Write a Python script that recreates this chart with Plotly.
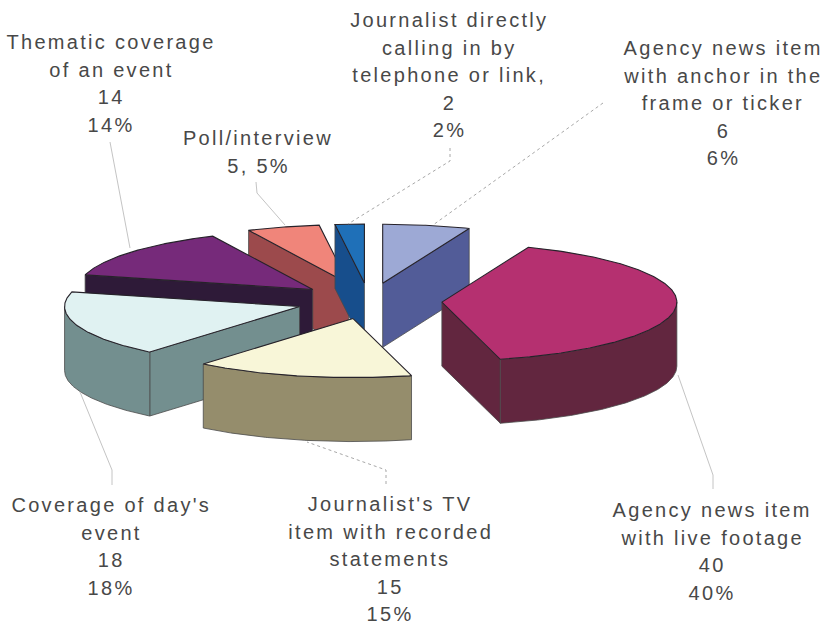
import numpy as np
import plotly.graph_objects as go

# ---- data -------------------------------------------------------------
categories = [
    "Agency news item with anchor in the frame or ticker",
    "Agency news item with live footage",
    "Journalist's TV item with recorded statements",
    "Coverage of day's event",
    "Thematic coverage of an event",
    "Poll/interview",
    "Journalist directly calling in by telephone or link",
]
values = [6, 40, 15, 18, 14, 5, 2]
top_colors = ["#9DA9D5", "#B53070", "#F8F6D8", "#E0F2F2", "#762A7A", "#F0857A", "#1F70B8"]
side_colors = ["#525C98", "#62263F", "#958D6C", "#738F8F", "#2E1A38", "#9C4A4C", "#174E8C"]

label_lines = [
    ["Agency news item", "with anchor in the", "frame or ticker", "6", "6%"],
    ["Agency news item", "with live footage", "40", "40%"],
    ["Journalist's TV", "item with recorded", "statements", "15", "15%"],
    ["Coverage of day's", "event", "18", "18%"],
    ["Thematic coverage", "of an event", "14", "14%"],
    ["Poll/interview", "5, 5%"],
    ["Journalist directly", "calling in by", "telephone or link,", "2", "2%"],
]
label_centre_x = [723, 712, 390, 111, 111, 258, 449]
label_first_y = [48, 510, 504, 505, 42, 138, 20]

leader_x = [[603, 433], [713, 713, 678], [386, 386, 307], [112, 112, 80], [110, 130], [256, 257, 285], [450, 450, 348]]
leader_y = [[103, 225], [489, 475, 375], [484, 470, 442], [485, 470, 392], [142, 248], [182, 193, 225], [148, 161, 224]]
leader_dash = ["dot", "solid", "dot", "solid", "solid", "solid", "dot"]

# ---- projection of the tilted pie ---------------------------------------
CX, CY = 369, 301      # pie centre in page pixels
RX, RY = 235, 59       # ellipse radii of the top face
EX, EY = 73, 18        # explosion offset
DEPTH = 64             # extruded height
LINE_H = 27.5

fractions = np.array(values) / sum(values)
ends = np.cumsum(fractions) * 360
starts = ends - fractions * 360


def arc(ax, ay, a0, a1):
    t = np.radians(np.linspace(a0, a1, max(int(abs(a1 - a0)) * 2, 2)))
    return ax + RX * np.sin(t), ay - RY * np.cos(t)


def face(fig, xs, ys, color, edge, width=1.0):
    fig.add_trace(go.Scatter(
        x=list(xs) + [xs[0]], y=list(ys) + [ys[0]], mode="lines", fill="toself",
        fillcolor=color, line=dict(color=edge, width=width), hoverinfo="skip", showlegend=False))


fig = go.Figure()

# back-to-front painting order
order = [5, 6, 4, 0, 3, 1, 2]
for i in order:
    a0, a1 = starts[i], ends[i]
    mid = np.radians((a0 + a1) / 2)
    ax, ay = CX + EX * np.sin(mid), CY - EY * np.cos(mid)
    top, side = top_colors[i], side_colors[i]
    wall_edge = "#4a4a4a"
    # radial walls facing the viewer
    for ang, visible in ((a0, np.sin(np.radians(a0)) < -1e-6), (a1, np.sin(np.radians(a1)) > 1e-6)):
        if visible:
            ex, ey = arc(ax, ay, ang, ang)
            px, py = ex[0], ey[0]
            face(fig, [ax, px, px, ax], [ay, py, py + DEPTH, ay + DEPTH], side, wall_edge, 0.8)
    # curved outer wall, front half only
    lo, hi = max(a0, 90), min(a1, 270)
    if hi > lo:
        ox, oy = arc(ax, ay, lo, hi)
        face(fig, np.r_[ox, ox[::-1]], np.r_[oy, oy[::-1] + DEPTH], side, wall_edge, 0.8)
    # top face
    tx, ty = arc(ax, ay, a0, a1)
    face(fig, np.r_[ax, tx], np.r_[ay, ty], top, "#26222a", 1.1)

# leader lines
for xs, ys, dash in zip(leader_x, leader_y, leader_dash):
    fig.add_trace(go.Scatter(
        x=xs, y=ys, mode="lines", hoverinfo="skip", showlegend=False,
        line=dict(color="#a8a8a8" if dash == "dot" else "#c4c4c4", width=1, dash=dash)))

# labels
for lines, lx, ly in zip(label_lines, label_centre_x, label_first_y):
    for k, text in enumerate(lines):
        fig.add_annotation(
            x=lx, y=ly + k * LINE_H, xref="x", yref="y", text=text, showarrow=False,
            xanchor="center", yanchor="middle",
            font=dict(family="Liberation Sans, Arial, sans-serif", size=20, color="#484848"))

fig.update_xaxes(range=[0, 829], visible=False, fixedrange=True)
fig.update_yaxes(range=[625, 0], visible=False, fixedrange=True)
fig.update_layout(width=829, height=625, margin=dict(l=0, r=0, t=0, b=0),
                  paper_bgcolor="white", plot_bgcolor="white", showlegend=False)

spacing_js = """
document.documentElement.style.overflow = 'hidden';
document.body.style.margin = '0';
document.body.style.overflow = 'hidden';
var el = document.getElementById('{plot_id}');
el.querySelectorAll('svg text').forEach(function (t) { t.style.letterSpacing = '2.3px'; });
"""
fig.write_html("out.html", post_script=spacing_js, config={"displayModeBar": False})
